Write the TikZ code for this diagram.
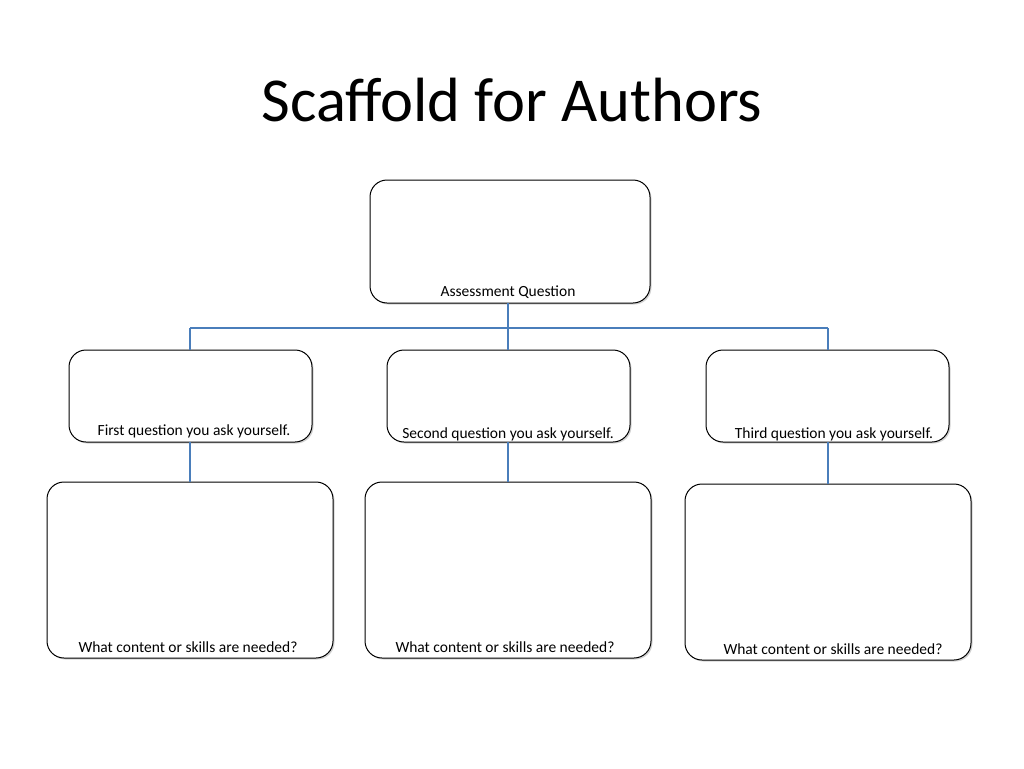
\documentclass[tikz,border=0pt]{standalone}
\usepackage{fontspec}
\setmainfont{Carlito}
\usetikzlibrary{shadows}
\definecolor{connblue}{HTML}{4A7EBB}
\begin{document}
\begin{tikzpicture}[x=1pt,y=-1pt,
  box/.style={draw=black,line width=1pt,rounded corners=17pt,fill=white,drop shadow={shadow xshift=1.5pt,shadow yshift=-1.5pt,opacity=0.35}},
  lab/.style={font=\fontsize{15.5}{18}\selectfont,anchor=base},
  conn/.style={draw=connblue,line width=1.8pt}]
\useasboundingbox[fill=white] (0,0) rectangle (1024,768);
\node (title) at (512,100) {\fontsize{62.5}{68}\selectfont Scaffold for Authors};
\path[box] (370,180) rectangle (650,303);
\coordinate (tb) at (508,303);
\path[box] (69,350) rectangle (312,442);
\path[box] (387,350) rectangle (630,442);
\path[box] (706,350) rectangle (949,442);
\path[box] (47,482) rectangle (333,658);
\path[box] (365,482) rectangle (651,658);
\path[box] (685,484) rectangle (971,660);
\coordinate (hl) at (190,328); \coordinate (hr) at (828,328); \coordinate (hm) at (508,328);
\coordinate (m1) at (190,350); \coordinate (m2) at (508,350); \coordinate (m3) at (828,350);
\coordinate (m1b) at (190,442); \coordinate (m2b) at (508,442); \coordinate (m3b) at (828,442);
\coordinate (b1) at (190,482); \coordinate (b2) at (508,482); \coordinate (b3) at (828,484);
\draw[conn] (tb) -- (hm);
\draw[conn] (hl) -- (hr);
\draw[conn] (hl) -- (m1); \draw[conn] (hm) -- (m2); \draw[conn] (hr) -- (m3);
\draw[conn] (m1b) -- (b1); \draw[conn] (m2b) -- (b2); \draw[conn] (m3b) -- (b3);
\node[lab] (l0) at (508,296) {Assessment Question};
\node[lab] (l1) at (194,435) {First question you ask yourself.};
\node[lab] (l2) at (508,438) {Second question you ask yourself.};
\node[lab] (l3) at (834,438) {Third question you ask yourself.};
\node[lab] (l4) at (188,652) {What content or skills are needed?};
\node[lab] (l5) at (505,652) {What content or skills are needed?};
\node[lab] (l6) at (833,654) {What content or skills are needed?};
\end{tikzpicture}
\end{document}
